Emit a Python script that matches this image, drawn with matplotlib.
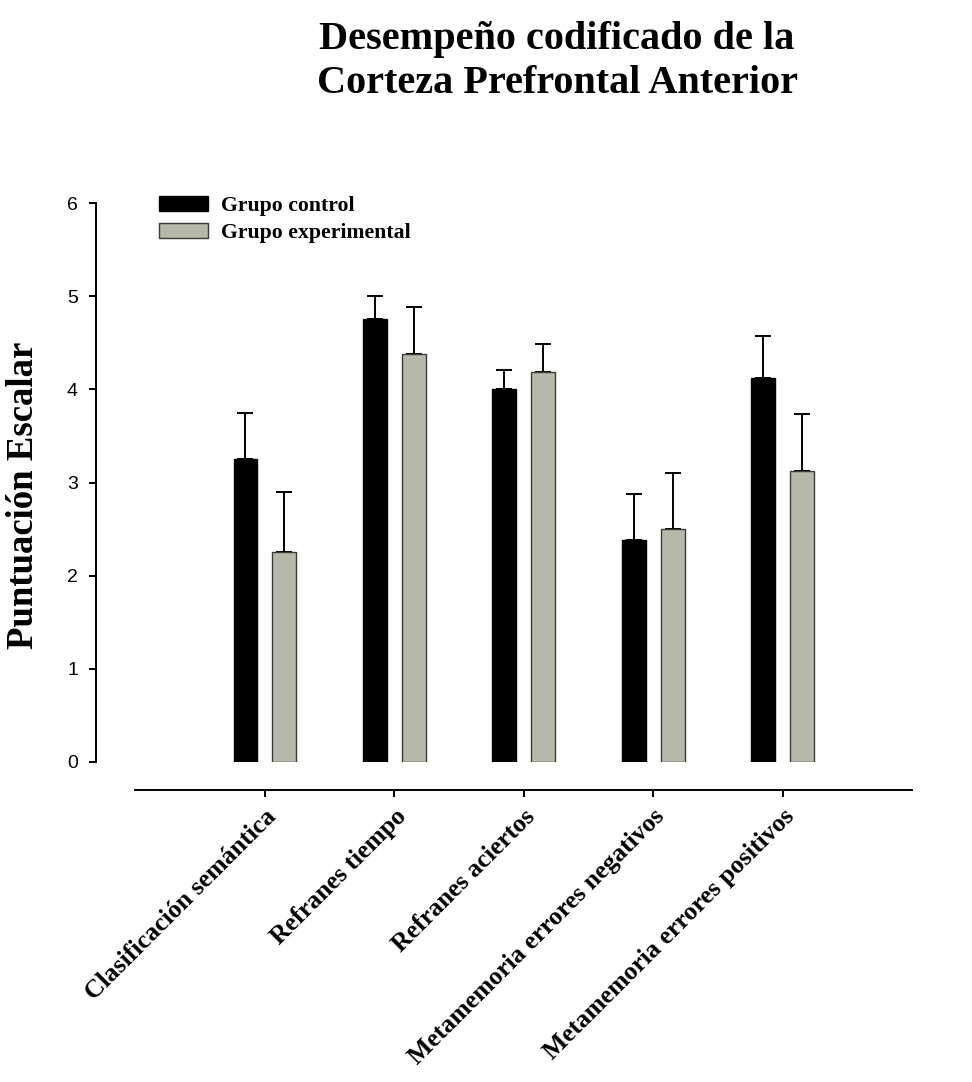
import matplotlib
matplotlib.use("Agg")
import matplotlib.pyplot as plt
from matplotlib.patches import Patch
import numpy as np

categorias = ["Clasificación semántica", "Refranes tiempo", "Refranes aciertos",
              "Metamemoria errores negativos", "Metamemoria errores positivos"]
control = [3.25, 4.75, 4.00, 2.38, 4.12]
control_err = [0.50, 0.25, 0.21, 0.50, 0.45]
experimental = [2.25, 4.38, 4.19, 2.50, 3.12]
experimental_err = [0.65, 0.50, 0.30, 0.60, 0.61]
y_ticks = [0, 1, 2, 3, 4, 5, 6]

serif = "Liberation Serif"
sans = "Liberation Sans"
gris = "#b6b8aa"

W, H = 972, 1082
fig = plt.figure(figsize=(W / 100, H / 100), dpi=100)
ax = fig.add_axes([96 / W, 1 - 762 / H, (912 - 96) / W, (762 - 203) / H])

x = np.arange(len(categorias))
ancho = 0.185
desp = 0.15
ceros = np.zeros(len(categorias))

ax.bar(x - desp, control, ancho, color="black", edgecolor="black", linewidth=1, zorder=2)
ax.bar(x + desp, experimental, ancho, color=gris, edgecolor="#3a3a3a", linewidth=1, zorder=2)
ax.errorbar(x - desp, control, yerr=[ceros, control_err], fmt="none", ecolor="black",
            elinewidth=1.4, capsize=5.8, capthick=1.4, zorder=1)
ax.errorbar(x + desp, experimental, yerr=[ceros, experimental_err], fmt="none", ecolor="black",
            elinewidth=1.4, capsize=5.8, capthick=1.4, zorder=1)

ax.set_xlim(-1.305, 5.0)
ax.set_ylim(0, 6)
ax.spines["top"].set_visible(False)
ax.spines["right"].set_visible(False)
ax.spines["left"].set_linewidth(1.4)
ax.spines["bottom"].set_linewidth(1.4)
ax.spines["bottom"].set_position(("outward", 20))
ax.spines["bottom"].set_bounds(-1.0, 5.0)

ax.set_yticks(y_ticks)
ax.set_yticklabels([str(v) for v in y_ticks], fontfamily=sans, fontsize=14)
ax.tick_params(axis="y", direction="out", length=5, width=1.4, pad=8)
ax.set_xticks(x)
ax.set_xticklabels(categorias, rotation=45, ha="right", va="top", rotation_mode="anchor",
                   fontfamily=serif, fontweight="bold", fontsize=18.5)
ax.tick_params(axis="x", direction="out", length=5, width=1.4, pad=6)

handles = [Patch(facecolor="black", edgecolor="black", label="Grupo control"),
           Patch(facecolor=gris, edgecolor="#3a3a3a", label="Grupo experimental")]
fig.legend(handles=handles, loc="upper left", bbox_to_anchor=(139 / W, 1 - 176 / H),
           frameon=False, prop={"family": serif, "weight": "bold", "size": 15.7},
           handlelength=2.25, handleheight=0.72, handletextpad=0.6, labelspacing=0.3)

fig.text(24 / W, 1 - 495 / H, "Puntuación Escalar", rotation=90, ha="center", va="center",
         fontfamily=serif, fontweight="bold", fontsize=26.5)
fig.text(557 / W, 1 - 21 / H, "Desempeño codificado de la\nCorteza Prefrontal Anterior",
         ha="center", va="top", fontfamily=serif, fontweight="bold", fontsize=29,
         linespacing=1.25)

fig.savefig("out.png", dpi=100, facecolor="white")
